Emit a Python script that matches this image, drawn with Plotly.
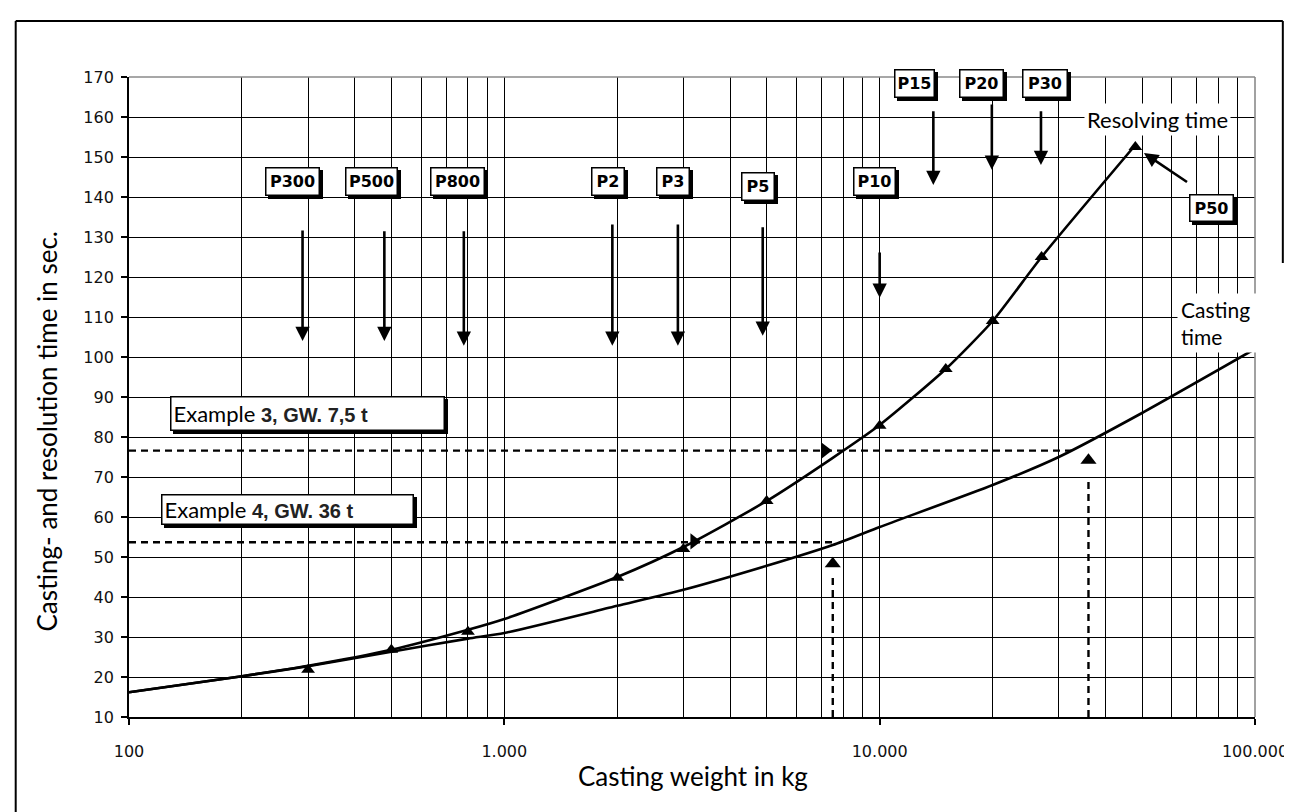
import math
import plotly.graph_objects as go

# ---------------- data ----------------
casting_x = [100, 200, 300, 500, 800, 1000, 2000, 3000, 5000, 7500, 10000, 20000, 30000, 50000, 100000]
casting_y = [16.2, 20.2, 22.7, 26.3, 29.6, 31.0, 37.8, 41.8, 47.8, 53.0, 57.5, 68.0, 75.0, 86.0, 102.0]

resolving_x = [100, 200, 300, 500, 800, 1000, 2000, 3000, 5000, 7500, 10000, 15000, 20000, 27000, 48000]
resolving_y = [16.2, 20.2, 22.8, 26.8, 31.8, 34.5, 45.0, 52.5, 64.0, 74.8, 83.0, 97.0, 109.0, 125.0, 153.0]

marker_x = [300, 500, 800, 2000, 3000, 5000, 10000, 15000, 20000, 27000, 48000]
marker_y = [21.8, 26.8, 31.3, 44.8, 52.0, 64.0, 82.8, 97.0, 109.0, 125.0, 152.5]

arrow_labels = ["P300", "P500", "P800", "P2", "P3", "P5", "P10", "P15", "P20", "P30"]
arrow_x = [290, 479, 780, 1940, 2900, 4880, 10000, 13900, 19900, 26900]
arrow_top = [132.0, 131.8, 131.8, 133.5, 133.5, 132.8, 126.5, 161.8, 163.5, 161.8]
arrow_tip = [104.0, 104.0, 102.8, 102.8, 102.8, 105.3, 114.8, 143.0, 146.8, 148.0]
label_x = [272, 444, 748, 1884, 2818, 4753, 9660, 12410, 18700, 27540]
label_y = [144.0, 144.0, 144.0, 143.8, 143.8, 142.6, 144.0, 168.3, 168.3, 168.3]
label_w = [49, 47, 49, 28, 28, 28, 37, 35, 39, 40]

p50_label = "P50"
p50_label_pos = (76800, 137.3)
p50_arrow_from = (66500, 143.5)
p50_arrow_to = (50600, 151.0)

ex3_h_x = [100, 33500]
ex3_h_y = [76.6, 76.6]
ex3_v_x = [36000, 36000]
ex3_v_y = [10, 70]
ex4_h_x = [100, 7470]
ex4_h_y = [53.7, 53.7]
ex4_v_x = [7500, 7500]
ex4_v_y = [10, 45.5]

head_right_x = [7150, 3200]
head_right_y = [76.6, 53.9]
head_up_x = [7500, 36000]
head_up_y = [48.3, 74.2]

x_tickvals = [100, 1000, 10000, 100000]
x_ticktext = ["100", "1.000", "10.000", "100.000"]
x_minor = [m * 10 ** e for e in (2, 3, 4) for m in range(2, 10)]

# ---------------- geometry helpers ----------------
L, R, T, B = 121, 38, 69, 103
W, H = 1292, 812
PW, PH = W - L - R, H - T - B


def px(xp):
    return (xp - L) / PW


def py(yp):
    return (H - B - yp) / PH


lg = math.log10

BLACK = "#000000"
DASH = "7px,5px"
CAL = "Lato, 'Open Sans', sans-serif"
BOLDF = "'DejaVu Sans', 'Liberation Sans', sans-serif"

fig = go.Figure()

fig.add_trace(go.Scatter(x=casting_x, y=casting_y, mode="lines",
                         line=dict(color=BLACK, width=2.6, shape="spline", smoothing=0.6),
                         hoverinfo="skip", showlegend=False))
fig.add_trace(go.Scatter(x=resolving_x, y=resolving_y, mode="lines",
                         line=dict(color=BLACK, width=2.6, shape="spline", smoothing=0.6),
                         hoverinfo="skip", showlegend=False))
fig.add_trace(go.Scatter(x=marker_x, y=marker_y, mode="markers",
                         marker=dict(symbol="triangle-up", size=12, color=BLACK),
                         hoverinfo="skip", showlegend=False))

for xs, ys in [(ex3_h_x, ex3_h_y), (ex3_v_x, ex3_v_y), (ex4_h_x, ex4_h_y), (ex4_v_x, ex4_v_y)]:
    fig.add_trace(go.Scatter(x=xs, y=ys, mode="lines",
                             line=dict(color=BLACK, width=2.4, dash=DASH),
                             hoverinfo="skip", showlegend=False))

fig.add_trace(go.Scatter(x=head_right_x, y=head_right_y, mode="markers",
                         marker=dict(symbol="triangle-right", size=14, color=BLACK),
                         hoverinfo="skip", showlegend=False))
fig.add_trace(go.Scatter(x=head_up_x, y=head_up_y, mode="markers",
                         marker=dict(symbol="triangle-up", size=14, color=BLACK),
                         hoverinfo="skip", showlegend=False))

annotations = []

# vertical arrows
for xa, yt, yb in zip(arrow_x, arrow_top, arrow_tip):
    annotations.append(dict(x=lg(xa), y=yb, ax=lg(xa), ay=yt, xref="x", yref="y",
                            axref="x", ayref="y", text="", showarrow=True,
                            arrowhead=2, arrowsize=1.1, arrowwidth=2.6, arrowcolor=BLACK,
                            standoff=0, startstandoff=0))
# P50 arrow
annotations.append(dict(x=lg(p50_arrow_to[0]), y=p50_arrow_to[1],
                        ax=lg(p50_arrow_from[0]), ay=p50_arrow_from[1],
                        xref="x", yref="y", axref="x", ayref="y", text="", showarrow=True,
                        arrowhead=2, arrowsize=1.1, arrowwidth=2.6, arrowcolor=BLACK,
                        standoff=0, startstandoff=0))


def boxed(text, x, y, width, height, font, align="center", shadow=3, pad=2):
    base = dict(x=x, y=y, xref="x", yref="y", showarrow=False,
                font=font, width=width, height=height, align=align,
                borderwidth=1.5, borderpad=pad, valign="middle")
    sh = dict(base)
    sh.update(text="&nbsp;", bgcolor=BLACK, bordercolor=BLACK,
              xshift=shadow, yshift=-shadow)
    main = dict(base)
    main.update(text=text, bgcolor="white", bordercolor=BLACK)
    return [sh, main]


pfont = dict(family=BOLDF, size=16, color=BLACK)
for lab, lx, ly, lw in zip(arrow_labels, label_x, label_y, label_w):
    annotations += boxed("<b>" + lab + "</b>", lg(lx), ly, lw, 23, pfont, pad=1.5)
annotations += boxed("<b>" + p50_label + "</b>", lg(p50_label_pos[0]), p50_label_pos[1], 39, 22, pfont, pad=1.5)

# example boxes
efont = dict(family=CAL, size=22, color=BLACK)
annotations += boxed("Example <span style='font-family:Liberation Sans;font-weight:bold;font-size:20px;color:#222'>3, GW. 7,5 t</span>",
                     lg(299), 85.9, 268, 28, efont, align="left")
annotations += boxed("Example <span style='font-family:Liberation Sans;font-weight:bold;font-size:20px;color:#222'>4, GW. 36 t</span>",
                     lg(264), 61.9, 246, 24, efont, align="left")

# curve labels
annotations.append(dict(x=lg(55100), y=159.3, xref="x", yref="y", text="Resolving time",
                        showarrow=False, font=dict(family=CAL, size=22, color=BLACK),
                        bgcolor="white", borderpad=2))
annotations.append(dict(x=lg(80000), y=108.6, xref="x", yref="y", text="Casting<br>time",
                        showarrow=False, font=dict(family=CAL, size=21, color=BLACK),
                        bgcolor="white", borderpad=3, align="left", width=76))

# axis titles
annotations.append(dict(x=px(38), y=py(423), xref="paper", yref="paper",
                        text="Casting- and resolution time in sec.", textangle=-90,
                        showarrow=False, font=dict(family=CAL, size=26, color=BLACK),
                        xanchor="center", yanchor="middle"))
annotations.append(dict(x=px(689), y=py(768), xref="paper", yref="paper",
                        text="Casting weight in kg",
                        showarrow=False, font=dict(family=CAL, size=26, color=BLACK),
                        xanchor="center", yanchor="middle"))

shapes = [
    # outer frame
    dict(type="line", xref="paper", yref="paper", x0=px(7), x1=px(7), y0=py(13), y1=py(815),
         line=dict(color=BLACK, width=2)),
    dict(type="line", xref="paper", yref="paper", x0=px(7), x1=px(1282), y0=py(13), y1=py(13),
         line=dict(color=BLACK, width=2)),
    dict(type="line", xref="paper", yref="paper", x0=px(1282), x1=px(1282), y0=py(13), y1=py(255),
         line=dict(color=BLACK, width=2)),
    # grey top / right plot edges
    dict(type="line", xref="paper", yref="paper", x0=0, x1=1, y0=1, y1=1,
         line=dict(color="#8a8a8a", width=1.6), layer="above"),
    dict(type="line", xref="paper", yref="paper", x0=1, x1=1, y0=0, y1=1,
         line=dict(color="#8a8a8a", width=1.6), layer="above"),
]

tick_font = dict(family="'DejaVu Sans', sans-serif", size=16, color="#111")

fig.update_layout(
    width=W, height=H,
    margin=dict(l=L, r=R, t=T, b=B, pad=0),
    paper_bgcolor="white", plot_bgcolor="white",
    showlegend=False,
    annotations=annotations,
    shapes=shapes,
    xaxis=dict(type="log", range=[2, 5], tickmode="array", tickvals=x_tickvals,
               ticktext=x_ticktext, showgrid=True, gridcolor=BLACK, gridwidth=1.4,
               minor=dict(tickmode="array", tickvals=x_minor, showgrid=True,
                          gridcolor=BLACK, gridwidth=1.4, ticks=""),
               ticks="outside", ticklen=6, tickwidth=1.5, tickcolor=BLACK,
               showline=True, linecolor=BLACK, linewidth=1.8,
               tickfont=tick_font, ticklabelstandoff=13, zeroline=False),
    yaxis=dict(range=[10, 170], dtick=10, tick0=10, showgrid=True, gridcolor=BLACK,
               gridwidth=1.4, ticks="outside", ticklen=6, tickwidth=1.5, tickcolor=BLACK,
               showline=True, linecolor=BLACK, linewidth=1.8,
               tickfont=tick_font, ticklabelstandoff=4, zeroline=False),
)

fig.write_html("out.html")
